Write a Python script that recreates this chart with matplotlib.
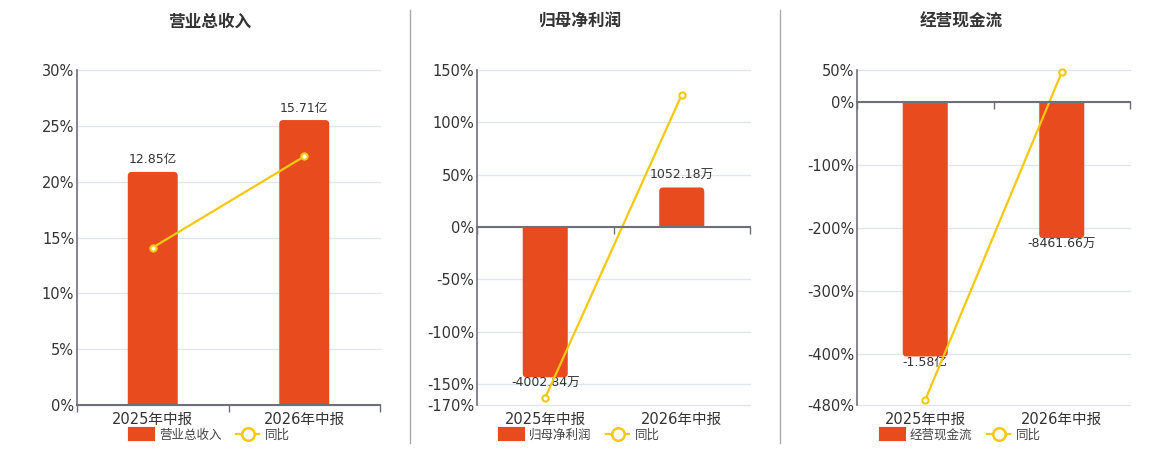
import numpy as np
import matplotlib
matplotlib.use("Agg")
import matplotlib.pyplot as plt
from matplotlib.lines import Line2D
from matplotlib.patches import Patch, PathPatch
from matplotlib.path import Path

plt.rcParams['font.family'] = ['DejaVu Sans', 'Noto Sans CJK SC']

# 数据
periods = ['2025年中报', '2026年中报']
titles = ['营业总收入', '归母净利润', '经营现金流']

revenue = [12.85, 15.71]          # 亿
revenue_lbl = ['12.85亿', '15.71亿']
revenue_yoy = [14.1, 22.26]       # %

profit = [-4002.84, 1052.18]      # 万
profit_lbl = ['-4002.84万', '1052.18万']
profit_yoy = [-163.0, 126.3]

cash = [-15800.0, -8461.66]       # 万
cash_lbl = ['-1.58亿', '-8461.66万']
cash_yoy = [-472.0, 46.4]

yticks = [[0, 5, 10, 15, 20, 25, 30],
          [-170, -150, -100, -50, 0, 50, 100, 150],
          [-480, -400, -300, -200, -100, 0, 50]]
bar_lims = [(0, 18.47), (-4740, 4180), (-18810, 1960)]

BAR = '#e84c1e'
LINE = '#f2c811'
AXC = '#6e7079'
GRID = '#e0e6f1'
TXT = '#333333'

fig = plt.figure(figsize=(11.6, 4.5), dpi=100)
W, H = 1160, 450
axes_px = [(77, 380), (477, 750), (857, 1130)]
title_x = [210, 580, 961]
top, bot = 70, 405

series = [(revenue, revenue_lbl, revenue_yoy),
          (profit, profit_lbl, profit_yoy),
          (cash, cash_lbl, cash_yoy)]


def round_bar(ax, rect, rx, ry):
    # 外侧两个角做圆角
    x0, y0 = rect.get_x(), rect.get_y()
    w, h = rect.get_width(), rect.get_height()
    x1 = x0 + w
    base, tip = y0, y0 + h
    s = 1 if h >= 0 else -1
    ry = min(ry, abs(h) / 2)
    verts = [(x0, base), (x0, tip - s * ry), (x0, tip), (x0 + rx, tip),
             (x1 - rx, tip), (x1, tip), (x1, tip - s * ry), (x1, base), (x0, base)]
    codes = [Path.MOVETO, Path.LINETO, Path.CURVE3, Path.CURVE3,
             Path.LINETO, Path.CURVE3, Path.CURVE3, Path.LINETO, Path.CLOSEPOLY]
    ax.add_patch(PathPatch(Path(verts, codes), facecolor=BAR, edgecolor='none', zorder=2))
    rect.set_visible(False)


for k in range(3):
    x0, x1 = axes_px[k]
    rect = [x0 / W, 1 - bot / H, (x1 - x0) / W, (bot - top) / H]
    vals, lbls, yoy = series[k]
    ticks = yticks[k]
    xs = np.arange(len(periods))

    ax = fig.add_axes(rect)
    ax.set_xlim(-0.5, 1.5)
    ax.set_ylim(min(ticks), max(ticks))
    ax.set_yticks(ticks)
    ax.set_yticklabels([f'{t}%' for t in ticks])
    ax.set_xticks(xs)
    ax.set_xticklabels(periods)
    ax.tick_params(axis='x', length=0, labelsize=10.5, colors=TXT, pad=5)
    ax.tick_params(axis='y', length=0, labelsize=10.5, colors=TXT, pad=2)
    ax.grid(axis='y', color=GRID, lw=1)
    for gl in ax.get_ygridlines():
        gl.set_clip_on(False)
    ax.set_axisbelow(True)
    for s in ['top', 'right', 'bottom']:
        ax.spines[s].set_visible(False)
    ax.spines['left'].set_color(AXC)
    ax.spines['left'].set_linewidth(1.2)

    axb = fig.add_axes(rect)
    axb.set_ylim(*bar_lims[k])
    axb.set_xlim(-0.5, 1.5)
    bars = axb.bar(xs, vals, width=0.33, color=BAR, zorder=2)
    for i, v in enumerate(vals):
        if v >= 0:
            axb.annotate(lbls[i], (xs[i], v), xytext=(0, 4), textcoords='offset points',
                         ha='center', va='bottom', fontsize=9, color=TXT, zorder=3)
        else:
            axb.annotate(lbls[i], (xs[i], v), xytext=(0, 0.5), textcoords='offset points',
                         ha='center', va='top', fontsize=9, color=TXT, zorder=3)
    rx = 4 * 2.0 / (x1 - x0)
    ry = 4 * (bar_lims[k][1] - bar_lims[k][0]) / (bot - top)
    for r in bars:
        round_bar(axb, r, rx, ry)
    axb.axis('off')

    axl = fig.add_axes(rect)
    axl.patch.set_visible(False)
    axl.set_ylim(min(ticks), max(ticks))
    axl.set_xlim(-0.5, 1.5)
    axl.plot(xs, yoy, color=LINE, lw=1.6, marker='o', ms=4.5,
             mfc='white', mec=LINE, mew=1.5, clip_on=False)
    for s in ['top', 'right', 'left']:
        axl.spines[s].set_visible(False)
    axl.spines['bottom'].set_position(('data', 0))
    axl.spines['bottom'].set_color(AXC)
    axl.spines['bottom'].set_linewidth(1.5)
    axl.set_yticks([])
    axl.set_xticks([-0.5, 0.5, 1.5])
    axl.set_xticklabels([])
    axl.tick_params(axis='x', direction='out', length=5, color=AXC, width=1)

    fig.text(title_x[k] / W, 1 - 22 / H, titles[k], ha='center', va='center',
             fontsize=12, fontweight='bold', color=TXT)

    handles = [Patch(facecolor=BAR, edgecolor=BAR, lw=3, joinstyle='round'),
               Line2D([], [], color=LINE, lw=1.6, marker='o', ms=9,
                      mfc='white', mec=LINE, mew=1.8)]
    fig.legend(handles, [titles[k], '同比'], loc='center',
               bbox_to_anchor=(title_x[k] / W, 1 - 435 / H), ncol=2, frameon=False,
               fontsize=9, handlelength=1.8, handleheight=0.9,
               columnspacing=1.2, handletextpad=0.5, labelcolor='#444444')

# 分隔线
for xp in [410, 780]:
    fig.add_artist(Line2D([xp / W, xp / W], [1 - 10 / H, 1 - 443 / H],
                          color='#aaaaaa', lw=1))

fig.savefig('out.png', dpi=100)
